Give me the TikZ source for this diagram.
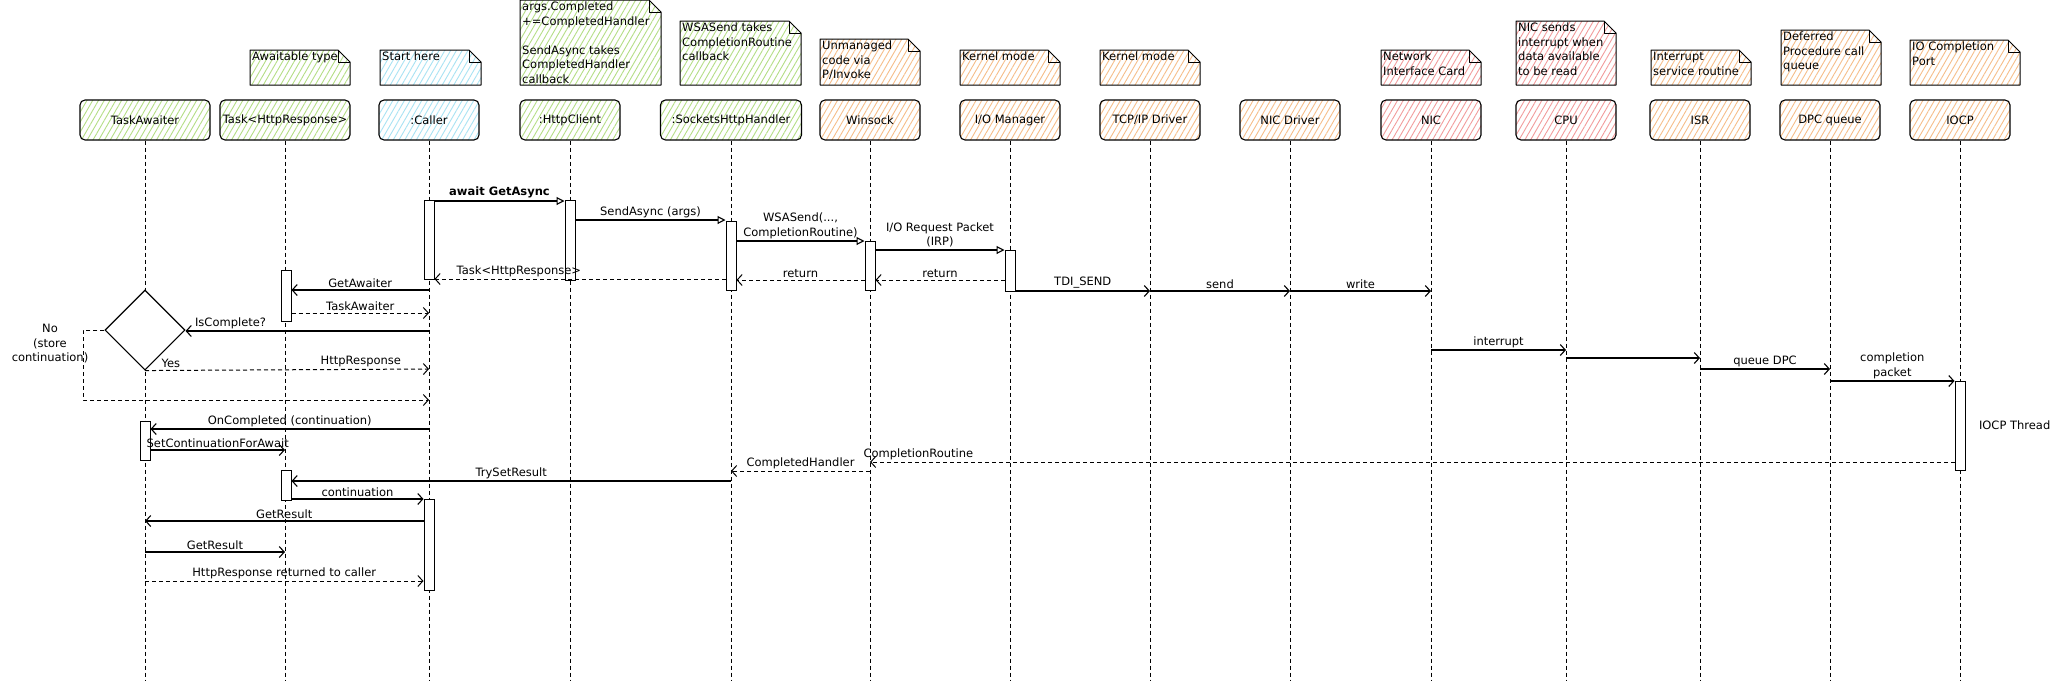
\documentclass[tikz,border=0pt]{standalone}
\usepackage{fontspec}
\setmainfont{DejaVu Sans}
\usetikzlibrary{arrows.meta,shapes.geometric,patterns.meta}
\definecolor{gH}{HTML}{B5DE86}
\definecolor{bH}{HTML}{A9E3F3}
\definecolor{oH}{HTML}{F6BE8A}
\definecolor{rH}{HTML}{F29C9C}
\tikzset{
  every node/.style={font=\fontsize{11.5}{14.5}\selectfont},
  hatch/.style={pattern={Lines[angle=60,distance=5pt,line width=0.9pt]}, pattern color=#1},
  head/.style={draw, line width=1.1pt, rounded corners=5pt, minimum height=40pt, inner sep=0pt},
  notel/.style={line width=1pt, line join=round},
  notetext/.style={anchor=north west, align=left, inner sep=2pt},
  life/.style={line width=0.9pt, dash pattern=on 4pt off 3pt},
  act/.style={draw, fill=white, line width=1pt, minimum width=10pt, inner sep=0pt},
  msg/.style={line width=1.1pt, -{Straight Barb[length=5pt,width=11pt]}},
  call/.style={line width=1.1pt, -{Triangle[open,length=8pt,width=8pt,fill=white]}},
  ret/.style={line width=1pt, dash pattern=on 4pt off 3pt, -{Straight Barb[length=5pt,width=11pt]}},
  lbl/.style={above=1pt, inner sep=1pt, align=center},
}
\newcommand\mynote[7]{%
  \draw[notel,hatch=#6] (#2,#3) -- ({#4-12},#3) -- (#4,{#3+12}) -- (#4,#5) -- (#2,#5) -- cycle;
  \draw[notel] ({#4-12},#3) -- ({#4-12},{#3+12}) -- (#4,{#3+12});
  \node[notetext] (#1) at (#2,#3) {#7};
}
\begin{document}
\begin{tikzpicture}[x=1pt,y=-1pt]
\fill[white] (0,0) rectangle (2065,681);
\useasboundingbox (0,0) rectangle (2065,681);

% notes
\mynote{n1}{250}{50}{350}{85}{gH}{Awaitable type}
\mynote{n2}{380}{50}{481}{85}{bH}{Start here}
\mynote{n3}{520}{0}{661}{85}{gH}{args.Completed\\+=CompletedHandler\\[14.5pt]SendAsync takes\\CompletedHandler\\callback}
\mynote{n4}{680}{21}{801}{85}{gH}{WSASend takes\\CompletionRoutine\\callback}
\mynote{n5}{820}{39}{920}{85}{oH}{Unmanaged\\code via\\P/Invoke}
\mynote{n6}{960}{50}{1060}{85}{oH}{Kernel mode}
\mynote{n7}{1100}{50}{1200}{85}{oH}{Kernel mode}
\mynote{n8}{1381}{50}{1481}{85}{rH}{Network\\Interface Card}
\mynote{n9}{1516}{21}{1616}{85}{rH}{NIC sends\\interrupt when\\data available\\to be read}
\mynote{n10}{1651}{50}{1751}{85}{oH}{Interrupt\\service routine}
\mynote{n11}{1781}{30}{1881}{85}{oH}{Deferred\\Procedure call\\queue}
\mynote{n12}{1910}{40}{2020}{85}{oH}{IO Completion\\Port}

% heads
\node[head,hatch=gH,minimum width=130pt] (TA) at (145,120) {TaskAwaiter};
\node[head,hatch=gH,minimum width=130pt] (TH) at (285,120) {Task<HttpResponse>};
\node[head,hatch=bH,minimum width=100pt] (CA) at (429,120) {:Caller};
\node[head,hatch=gH,minimum width=100pt] (HC) at (570,120) {:HttpClient};
\node[head,hatch=gH,minimum width=141pt] (SH) at (731,120) {:SocketsHttpHandler};
\node[head,hatch=oH,minimum width=100pt] (WS) at (870,120) {Winsock};
\node[head,hatch=oH,minimum width=100pt] (IO) at (1010,120) {I/O Manager};
\node[head,hatch=oH,minimum width=100pt] (TCP) at (1150,120) {TCP/IP Driver};
\node[head,hatch=oH,minimum width=100pt] (ND) at (1290,120) {NIC Driver};
\node[head,hatch=rH,minimum width=100pt] (NIC) at (1431,120) {NIC};
\node[head,hatch=rH,minimum width=100pt] (CPU) at (1566,120) {CPU};
\node[head,hatch=oH,minimum width=100pt] (ISR) at (1700,120) {ISR};
\node[head,hatch=oH,minimum width=100pt] (DPC) at (1830,120) {DPC queue};
\node[head,hatch=oH,minimum width=100pt] (IOCP) at (1960,120) {IOCP};

% lifelines
\foreach \n in {TA,TH,CA,HC,SH,WS,IO,TCP,ND,NIC,CPU,ISR,DPC,IOCP}
  \draw[life] (\n.south) -- (\n.south |- 0,681);

% activation bars and decision
\node[act,minimum height=79pt] (cab1) at (429,239.5) {};
\node[act,minimum height=80pt] (hcb1) at (570,240) {};
\node[act,minimum height=69pt] (shb1) at (731,255.5) {};
\node[act,minimum height=49pt] (wsb1) at (870,265.5) {};
\node[act,minimum height=41pt] (iob1) at (1010,270.5) {};
\node[act,minimum height=51pt] (thb1) at (286,295.5) {};
\node[act,minimum height=39pt] (tab1) at (145,440.5) {};
\node[act,minimum height=30pt] (thb2) at (286,485) {};
\node[act,minimum height=91pt] (cab2) at (429,544.5) {};
\node[act,minimum height=89pt] (iocpb) at (1960,425.5) {};
\node[draw, fill=white, line width=1.1pt, diamond, aspect=1, minimum width=80pt, minimum height=80pt, inner sep=0pt] (dia) at (145,330) {};

% calls
\draw[call] (cab1.east |- 0,201) -- (hcb1.west |- 0,201) node[lbl,midway] {\bfseries await GetAsync};
\draw[call] (hcb1.east |- 0,220) -- (shb1.west |- 0,220) node[lbl,midway] {SendAsync (args)};
\draw[call] (shb1.east |- 0,241) -- (wsb1.west |- 0,241) node[lbl,midway] {WSASend(...,\\CompletionRoutine)};
\draw[call] (wsb1.east |- 0,250) -- (iob1.west |- 0,250) node[lbl,midway] {I/O Request Packet\\(IRP)};

% returns
\draw[ret] (shb1.west |- 0,279) -- (cab1.east |- 0,279) node[lbl,pos=0.71] {Task<HttpResponse>};
\draw[ret] (wsb1.west |- 0,280) -- (shb1.east |- 0,280) node[lbl,midway] {return};
\draw[ret] (iob1.west |- 0,280) -- (wsb1.east |- 0,280) node[lbl,midway] {return};

% kernel path
\draw[msg] (iob1.east |- 0,291) -- (TCP |- 0,291) node[lbl,midway] {TDI\_SEND};
\draw[msg] (TCP |- 0,291) -- (ND |- 0,291) node[lbl,midway] {send};
\draw[msg] (ND |- 0,291) -- (NIC |- 0,291) node[lbl,midway] {write};
\draw[msg] (NIC |- 0,350) -- (CPU |- 0,350) node[lbl,midway] {interrupt};
\draw[msg] (CPU |- 0,358) -- (ISR |- 0,358);
\draw[msg] (ISR |- 0,369) -- (DPC |- 0,369) node[lbl,midway] {queue DPC};
\draw[msg] (DPC |- 0,381) -- (iocpb.west |- 0,381) node[lbl,midway] {completion\\packet};
\node[anchor=west] (iocpl) at ([xshift=10pt]iocpb.east) {IOCP Thread};

% awaiter
\draw[msg] (CA |- 0,290) -- (thb1.east |- 0,290) node[lbl,midway] {GetAwaiter};
\draw[ret] (thb1.east |- 0,313) -- (CA |- 0,313) node[lbl,midway] {TaskAwaiter};
\draw[msg] (CA |- 0,331) -- (dia.east |- 0,331) node[pos=1, anchor=south west, inner sep=1pt, xshift=8pt, yshift=1pt] {IsComplete?};
\draw[ret] (dia.south) -- (CA |- 0,369) node[lbl,pos=0.76] {HttpResponse} node[pos=0, anchor=south west, inner sep=1pt, xshift=15pt, yshift=1pt] {Yes};
\draw[ret] (dia.west) -- ++(-21,0) coordinate (nocorner) |- (CA |- 0,400);
\node[align=center, inner sep=0pt] (nolbl) at (50,344) {No\\(store\\continuation)};

% continuation
\draw[msg] (CA |- 0,429) -- (tab1.east |- 0,429) node[lbl,midway] {OnCompleted (continuation)};
\draw[msg] (tab1.east |- 0,450) -- (TH |- 0,450) node[lbl,midway] {SetContinuationForAwait};
\draw[ret] (iocpb.west |- 0,462) -- (WS |- 0,462) node[pos=1, anchor=south west, inner sep=1pt, xshift=-8pt, yshift=1pt] {CompletionRoutine};
\draw[ret] (WS |- 0,471) -- (SH |- 0,471) node[lbl,midway] {CompletedHandler};
\draw[msg] (SH |- 0,481) -- (thb2.east |- 0,481) node[lbl,midway] {TrySetResult};
\draw[msg] (thb2.east |- 0,499) -- (cab2.west |- 0,499) node[lbl,midway] {continuation};
\draw[msg] (cab2.west |- 0,521) -- (TA |- 0,521) node[lbl,midway] {GetResult};
\draw[msg] (TA |- 0,552) -- (TH |- 0,552) node[lbl,midway] {GetResult};
\draw[ret] (TA |- 0,581) -- (cab2.west |- 0,581) node[lbl,midway] {HttpResponse returned to caller};
\end{tikzpicture}
\end{document}
